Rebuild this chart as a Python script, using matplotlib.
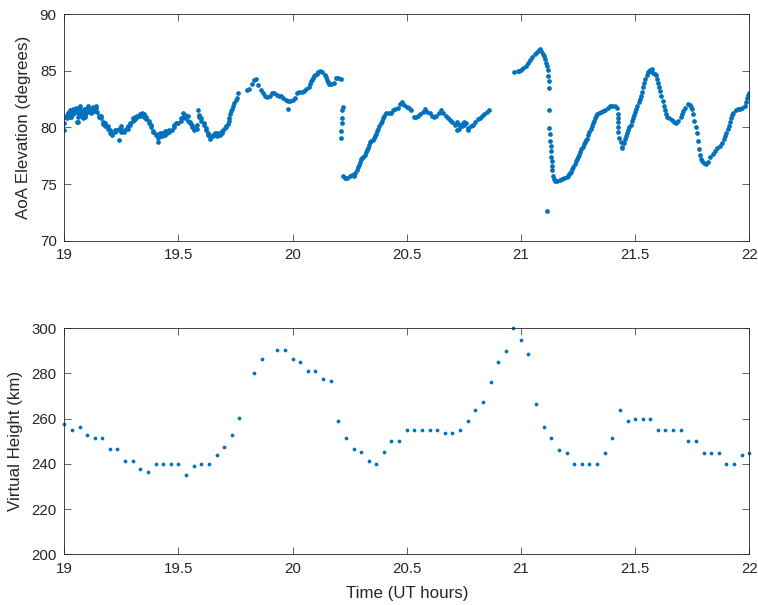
import matplotlib
matplotlib.use("Agg")
import matplotlib.pyplot as plt

plt.rcParams['font.family'] = ['Liberation Sans', 'DejaVu Sans']

# ---------------- AoA elevation (top panel), (time UT hours, elevation deg) ----------------
aoa_seg1 = [
    (19.00, 80.4), (19.00, 79.75), (19.005, 80.9), (19.01, 81.1), (19.01, 80.8), (19.015, 81.3),
    (19.02, 81.4), (19.02, 81.15), (19.02, 80.9), (19.025, 81.55), (19.03, 81.1), (19.03, 80.9),
    (19.035, 81.35), (19.04, 81.6), (19.04, 81.2), (19.045, 81.5), (19.05, 81.7), (19.05, 81.4),
    (19.055, 80.45), (19.06, 81.3), (19.06, 80.9), (19.06, 80.5), (19.065, 81.7),
    (19.07, 81.9), (19.07, 81.5), (19.07, 81.2), (19.075, 81.0), (19.08, 81.4), (19.08, 81.1),
    (19.08, 80.8), (19.085, 81.65), (19.09, 81.1), (19.09, 80.9), (19.095, 81.3),
    (19.10, 81.7), (19.10, 81.4), (19.105, 81.85), (19.11, 81.7), (19.11, 81.5), (19.115, 81.3),
    (19.12, 81.6), (19.12, 81.4), (19.125, 81.8), (19.13, 81.7), (19.13, 81.5), (19.135, 81.45),
    (19.14, 81.9), (19.14, 81.7), (19.145, 81.35), (19.15, 81.0), (19.15, 80.9),
    (19.16, 81.0), (19.16, 80.8), (19.17, 80.5), (19.17, 80.3), (19.18, 80.4), (19.18, 80.1),
    (19.19, 80.1), (19.19, 79.9), (19.20, 79.8), (19.20, 79.5), (19.21, 79.5), (19.21, 79.3),
    (19.22, 79.8), (19.22, 79.6), (19.23, 79.75), (19.24, 79.9), (19.24, 78.85),
    (19.25, 80.1), (19.25, 79.85), (19.25, 79.6), (19.26, 79.7), (19.26, 79.6), (19.27, 79.85),
    (19.28, 80.1), (19.28, 79.9), (19.29, 80.4), (19.29, 80.2), (19.30, 80.8), (19.30, 80.6),
    (19.31, 80.9), (19.31, 80.7), (19.32, 81.0), (19.32, 80.9), (19.33, 81.2), (19.33, 81.0),
    (19.34, 81.25), (19.34, 81.05), (19.35, 81.15), (19.35, 80.95), (19.36, 80.9), (19.36, 80.7),
    (19.37, 80.6), (19.37, 80.4), (19.38, 80.2), (19.38, 80.0), (19.39, 79.7), (19.39, 79.6),
    (19.40, 79.4), (19.40, 79.3), (19.41, 79.1), (19.41, 78.7), (19.42, 79.5), (19.42, 79.2),
]
aoa_seg2 = [
    (19.43, 79.5), (19.43, 79.2), (19.44, 79.65), (19.44, 79.3), (19.45, 79.7), (19.45, 79.5),
    (19.46, 79.8), (19.46, 79.6), (19.47, 79.8), (19.48, 80.2), (19.48, 80.05),
    (19.49, 80.4), (19.50, 80.4), (19.51, 80.8), (19.51, 80.6), (19.52, 81.3), (19.52, 80.9),
    (19.53, 81.1), (19.53, 80.8), (19.54, 81.0), (19.54, 80.6), (19.55, 80.5), (19.55, 80.35),
    (19.56, 80.2), (19.56, 80.05), (19.57, 79.95), (19.57, 79.75), (19.58, 80.2), (19.58, 79.9),
    (19.585, 81.5), (19.59, 81.1), (19.59, 80.9), (19.60, 80.8), (19.60, 80.6),
    (19.61, 80.4), (19.61, 80.2), (19.62, 79.95), (19.62, 79.75), (19.63, 79.5), (19.63, 79.3),
    (19.64, 79.2), (19.64, 79.0), (19.65, 79.35), (19.65, 79.2), (19.66, 79.5), (19.66, 79.3),
    (19.67, 79.5), (19.67, 79.2), (19.68, 79.5), (19.68, 79.3), (19.69, 79.65), (19.69, 79.5),
    (19.70, 79.85), (19.71, 80.1), (19.71, 80.0), (19.715, 80.3), (19.72, 80.8), (19.72, 80.6),
    (19.725, 81.15), (19.73, 81.45), (19.735, 81.65), (19.74, 81.9), (19.745, 82.15),
    (19.75, 82.4), (19.755, 82.6), (19.76, 83.0),
    (19.80, 83.3), (19.81, 83.4), (19.82, 83.8), (19.83, 84.15), (19.84, 84.25),
]
aoa_seg3 = [
    (19.85, 83.7), (19.86, 83.3), (19.87, 83.05), (19.88, 82.8), (19.89, 82.65), (19.90, 82.8),
    (19.91, 83.05), (19.92, 83.0), (19.93, 82.9), (19.94, 82.8), (19.95, 82.8), (19.96, 82.6),
    (19.97, 82.45), (19.98, 82.3), (19.98, 81.6), (19.99, 82.3), (20.00, 82.45), (20.01, 82.6),
    (20.02, 83.05), (20.03, 83.1), (20.04, 83.1), (20.05, 83.25), (20.06, 83.4), (20.07, 83.6),
    (20.075, 83.85), (20.08, 84.05), (20.085, 84.2), (20.09, 84.35), (20.095, 84.5),
    (20.10, 84.6), (20.105, 84.75), (20.11, 84.85), (20.12, 84.95), (20.13, 84.9),
    (20.14, 84.65), (20.145, 84.45), (20.15, 84.2), (20.155, 84.0), (20.16, 83.8),
    (20.17, 83.8), (20.18, 83.95), (20.19, 84.4), (20.20, 84.4), (20.21, 84.3),
    (20.212, 79.65), (20.212, 79.05), (20.2164, 80.8), (20.2164, 80.4), (20.218, 81.5), (20.219, 81.8),
    (20.22, 75.7), (20.23, 75.55), (20.24, 75.55), (20.25, 75.7), (20.26, 75.8),
]
aoa_seg4 = [
    (20.27, 75.75), (20.275, 76.0), (20.28, 76.25), (20.285, 76.5), (20.29, 76.7), (20.295, 76.95),
    (20.30, 77.2), (20.305, 77.3), (20.31, 77.4), (20.315, 77.6), (20.32, 77.8), (20.325, 78.0),
    (20.33, 78.2), (20.335, 78.45), (20.34, 78.7), (20.345, 78.8), (20.35, 78.9), (20.355, 79.05),
    (20.36, 79.2), (20.365, 79.4), (20.37, 79.65), (20.375, 79.9), (20.38, 80.15), (20.385, 80.4),
    (20.39, 80.6), (20.395, 80.8), (20.40, 81.0), (20.41, 81.25), (20.42, 81.3), (20.43, 81.3),
    (20.44, 81.5), (20.45, 81.6), (20.46, 81.75), (20.47, 82.1), (20.48, 82.2), (20.49, 82.0),
    (20.50, 81.8), (20.51, 81.7), (20.52, 81.5), (20.53, 80.95), (20.54, 80.9), (20.55, 81.0),
    (20.56, 81.2), (20.57, 81.4), (20.58, 81.6), (20.59, 81.4), (20.60, 81.25), (20.61, 81.0),
    (20.62, 80.9), (20.63, 81.0), (20.64, 81.25), (20.65, 81.5), (20.66, 81.25), (20.67, 81.0),
    (20.68, 80.8), (20.69, 80.65), (20.70, 80.45), (20.71, 80.25),
]
aoa_seg5 = [
    (20.72, 80.5), (20.72, 79.8), (20.73, 80.2), (20.73, 79.9), (20.74, 80.3), (20.74, 80.1),
    (20.75, 80.45), (20.75, 80.2), (20.76, 80.35), (20.77, 79.95), (20.77, 79.75),
    (20.78, 80.1), (20.79, 80.25), (20.80, 80.45), (20.81, 80.7), (20.82, 80.8),
    (20.83, 81.0), (20.84, 81.15), (20.85, 81.35), (20.86, 81.5),
]
aoa_seg6 = [
    (20.968, 84.9), (20.985, 84.95), (20.99, 85.0), (21.00, 85.1), (21.01, 85.2), (21.02, 85.45),
    (21.03, 85.65), (21.04, 85.95), (21.05, 86.2), (21.06, 86.45), (21.07, 86.65), (21.08, 86.85),
    (21.085, 86.95), (21.09, 86.7), (21.095, 86.5), (21.10, 86.3), (21.105, 86.05), (21.11, 85.7),
    (21.113, 85.4), (21.113, 72.65), (21.119, 85.1), (21.120, 84.55), (21.122, 84.1),
    (21.1235, 83.5), (21.125, 81.5), (21.125, 79.95), (21.126, 79.4), (21.128, 78.8),
    (21.131, 78.4), (21.131, 77.95), (21.133, 77.35), (21.135, 77.05), (21.135, 76.6),
    (21.1375, 76.2), (21.142, 75.75), (21.146, 75.45),
]
aoa_seg7 = [
    (21.15, 75.3), (21.16, 75.3), (21.17, 75.35), (21.18, 75.45), (21.19, 75.55), (21.20, 75.65),
    (21.205, 75.75), (21.21, 75.9), (21.215, 76.0), (21.22, 76.1), (21.225, 76.3), (21.23, 76.5),
    (21.235, 76.75), (21.24, 77.0), (21.245, 77.2), (21.25, 77.4), (21.255, 77.6), (21.26, 77.8),
    (21.265, 78.05), (21.27, 78.3), (21.275, 78.5), (21.28, 78.7), (21.285, 78.85), (21.29, 79.0),
    (21.295, 79.3), (21.30, 79.6), (21.305, 79.85), (21.31, 80.1), (21.315, 80.35), (21.32, 80.6),
    (21.325, 80.8), (21.33, 81.0), (21.335, 81.15), (21.34, 81.3), (21.35, 81.4), (21.36, 81.45),
    (21.37, 81.55), (21.38, 81.7), (21.39, 81.9), (21.40, 81.9), (21.41, 81.9), (21.42, 81.7),
    (21.424, 81.2), (21.424, 80.8), (21.424, 80.45), (21.427, 80.0), (21.427, 79.55),
    (21.431, 79.1), (21.437, 78.7), (21.443, 78.3), (21.443, 78.2), (21.45, 78.65),
    (21.455, 78.95), (21.46, 79.25), (21.465, 79.5), (21.47, 79.75), (21.475, 80.0),
    (21.48, 80.25), (21.485, 80.55), (21.49, 80.8), (21.495, 81.1), (21.50, 81.4),
    (21.505, 81.65), (21.51, 81.9), (21.515, 82.2), (21.52, 82.5), (21.525, 82.8),
    (21.53, 83.15), (21.535, 83.55), (21.54, 83.95), (21.545, 84.3), (21.55, 84.6),
    (21.555, 84.85), (21.56, 85.0), (21.565, 85.05), (21.57, 85.0), (21.575, 85.15),
]
aoa_seg8 = [
    (21.58, 84.8), (21.585, 84.7), (21.59, 84.6), (21.595, 84.3), (21.60, 83.95), (21.605, 83.6),
    (21.61, 83.2), (21.615, 82.8), (21.62, 82.3), (21.625, 81.85), (21.63, 81.5), (21.635, 81.2),
    (21.64, 80.95), (21.65, 80.8), (21.66, 80.65), (21.67, 80.5), (21.68, 80.4), (21.69, 80.6),
    (21.70, 80.95), (21.705, 81.2), (21.71, 81.45), (21.72, 81.75), (21.73, 82.05), (21.74, 81.95),
    (21.745, 81.8), (21.75, 81.6), (21.755, 81.2), (21.76, 80.6), (21.765, 80.0), (21.77, 79.5),
    (21.775, 78.8), (21.78, 78.1), (21.785, 77.6), (21.79, 77.25), (21.795, 77.0), (21.80, 76.85),
    (21.81, 76.75), (21.82, 76.95), (21.83, 77.35), (21.84, 77.65), (21.85, 77.95), (21.86, 78.15),
    (21.87, 78.4), (21.88, 78.65), (21.89, 79.0), (21.895, 79.25), (21.90, 79.5), (21.905, 79.85),
    (21.91, 80.15), (21.915, 80.5), (21.92, 80.8), (21.925, 81.1), (21.93, 81.3), (21.94, 81.5),
    (21.95, 81.6), (21.96, 81.6), (21.97, 81.7), (21.98, 81.9), (21.985, 82.2), (21.99, 82.55),
    (21.995, 82.85), (22.00, 83.05),
]
aoa_segments = [aoa_seg1, aoa_seg2, aoa_seg3, aoa_seg4, aoa_seg5, aoa_seg6, aoa_seg7, aoa_seg8]

# ---------------- Virtual height (bottom panel) ----------------
vh_time = [
    19.000, 19.033, 19.067, 19.100, 19.133, 19.167, 19.200, 19.233, 19.267, 19.300,
    19.333, 19.367, 19.400, 19.433, 19.467, 19.500, 19.533, 19.567, 19.600, 19.633,
    19.667, 19.700, 19.733, 19.767, 19.833, 19.867, 19.933, 19.967, 20.000, 20.033,
    20.067, 20.100, 20.133, 20.167, 20.200, 20.233, 20.267, 20.300, 20.333, 20.367,
    20.400, 20.433, 20.467, 20.500, 20.533, 20.567, 20.600, 20.633, 20.667, 20.700,
    20.733, 20.767, 20.800, 20.833, 20.867, 20.900, 20.933, 20.967, 21.000, 21.033,
    21.067, 21.100, 21.133, 21.167, 21.200, 21.233, 21.267, 21.300, 21.333, 21.367,
    21.400, 21.433, 21.467, 21.500, 21.533, 21.567, 21.600, 21.633, 21.667, 21.700,
    21.733, 21.767, 21.800, 21.833, 21.867, 21.900, 21.933, 21.967, 22.000,
]
vh_height = [
    257.7, 255.2, 256.5, 252.7, 251.5, 251.5, 246.5, 246.5, 241.4, 241.4,
    237.6, 236.4, 240.0, 240.0, 240.0, 240.0, 235.1, 238.9, 240.0, 240.0,
    244.0, 247.6, 252.7, 260.2, 280.2, 286.4, 290.3, 290.3, 286.4, 285.2,
    281.3, 281.3, 277.7, 276.5, 259.0, 251.5, 246.5, 245.1, 241.4, 240.0,
    245.1, 250.1, 250.1, 255.1, 255.1, 255.1, 255.1, 255.1, 253.8, 253.8,
    255.1, 258.8, 263.8, 267.6, 276.3, 285.0, 290.0, 300.0, 295.0, 288.8,
    266.3, 256.3, 251.3, 246.3, 245.0, 240.0, 240.0, 240.0, 240.0, 245.0,
    251.3, 263.8, 258.8, 260.0, 260.0, 260.0, 255.0, 255.0, 255.0, 255.0,
    250.0, 250.0, 245.0, 245.0, 245.0, 240.0, 240.0, 243.8, 245.0,
]

x_ticks = [19, 19.5, 20, 20.5, 21, 21.5, 22]
x_tick_labels = ['19', '19.5', '20', '20.5', '21', '21.5', '22']
top_yticks = [70, 75, 80, 85, 90]
bottom_yticks = [200, 220, 240, 260, 280, 300]

blue = '#0072BD'
dark = '#262626'

fig = plt.figure(figsize=(7.58, 6.05), dpi=100)
ax1 = fig.add_axes([0.0848, 0.6021, 0.9037, 0.3747])
ax2 = fig.add_axes([0.0848, 0.0838, 0.9037, 0.3736])

for seg in aoa_segments:
    t, e = zip(*seg)
    ax1.plot(t, e, linestyle='none', marker='o', markersize=3.4,
             markeredgewidth=0, color=blue)

ax2.plot(vh_time, vh_height, linestyle='none', marker='o', markersize=2.7,
         markeredgewidth=0, color=blue, clip_on=False)

ax1.set_ylim(70, 90)
ax1.set_yticks(top_yticks)
ax2.set_ylim(200, 300)
ax2.set_yticks(bottom_yticks)

for ax in (ax1, ax2):
    ax.set_xlim(19, 22)
    ax.set_xticks(x_ticks)
    ax.set_xticklabels(x_tick_labels)
    ax.tick_params(direction='in', length=4.9, width=0.5, top=True, right=True,
                   colors=dark, labelsize=10.8, pad=5.5)
    for sp in ax.spines.values():
        sp.set_linewidth(0.6)
        sp.set_color(dark)

ax1.set_ylabel('AoA Elevation (degrees)', fontsize=12.2, color=dark, labelpad=6)
ax2.set_ylabel('Virtual Height (km)', fontsize=12.2, color=dark, labelpad=6)
ax2.set_xlabel('Time (UT hours)', fontsize=12.2, color=dark, labelpad=7)

fig.savefig('out.png', dpi=100)
